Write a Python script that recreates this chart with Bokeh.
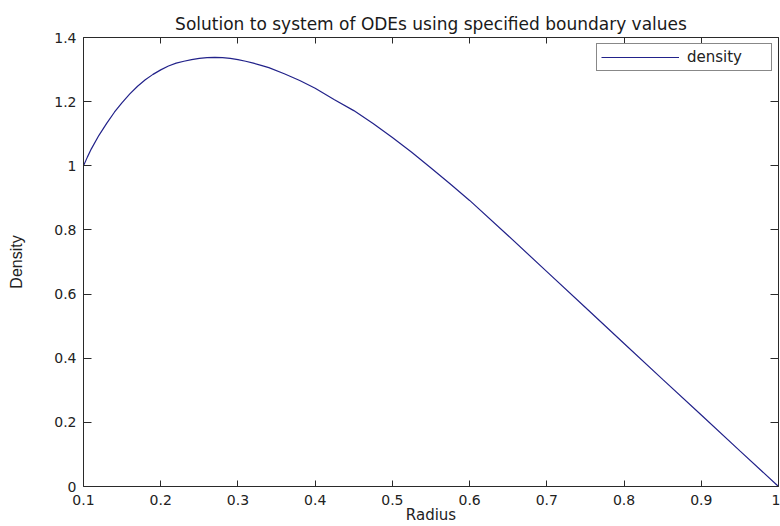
from bokeh.plotting import figure
from bokeh.models import (Range1d, LinearAxis, FixedTicker, CustomJSTickFormatter,
                          Legend, LegendItem)
from bokeh.embed import file_html
from bokeh.resources import INLINE

# ---- data ----
radius = [0.100, 0.105, 0.110, 0.120, 0.130, 0.140, 0.150, 0.160, 0.170, 0.180,
          0.190, 0.200, 0.210, 0.220, 0.230, 0.240, 0.250, 0.260, 0.270, 0.280,
          0.290, 0.300, 0.310, 0.320, 0.330, 0.340, 0.360, 0.380, 0.400, 0.425,
          0.450, 0.475, 0.500, 0.525, 0.550, 0.575, 0.600, 0.650, 0.700, 0.750,
          0.800, 0.850, 0.900, 0.950, 1.000]
density = [1.000, 1.027, 1.052, 1.095, 1.132, 1.167, 1.197, 1.224, 1.248, 1.268,
           1.285, 1.299, 1.311, 1.320, 1.326, 1.331, 1.335, 1.337, 1.338, 1.337,
           1.335, 1.331, 1.326, 1.320, 1.313, 1.306, 1.287, 1.266, 1.242, 1.206,
           1.172, 1.132, 1.088, 1.042, 0.993, 0.943, 0.892, 0.782, 0.670, 0.558,
           0.446, 0.334, 0.223, 0.111, 0.000]

x_ticks = [0.1, 0.2, 0.3, 0.4, 0.5, 0.6, 0.7, 0.8, 0.9, 1.0]
y_ticks = [0.0, 0.2, 0.4, 0.6, 0.8, 1.0, 1.2, 1.4]

title_text = "Solution to system of ODEs using specified boundary values"
x_label = "Radius"
y_label = "Density"
series_label = "density"

AX = "#2a2a2a"
FONT = "DejaVu Sans"

p = figure(width=780, height=526, output_backend="svg", toolbar_location=None,
           x_range=Range1d(0.1, 1.0), y_range=Range1d(0.0, 1.4),
           min_border_left=83, min_border_right=2, min_border_top=37,
           min_border_bottom=20, title=title_text,
           x_axis_label=x_label, y_axis_label=y_label)

p.background_fill_color = "white"
p.border_fill_color = "white"
p.outline_line_color = None
p.xgrid.visible = False
p.ygrid.visible = False

p.title.align = "center"
p.title.text_font = FONT
p.title.text_font_size = "17px"
p.title.text_font_style = "normal"
p.title.text_color = "#1a1a1a"
p.title.standoff = 8

fmt = CustomJSTickFormatter(code="return (Math.round(tick*10)/10).toString();")

xa = p.xaxis[0]
xa.ticker = FixedTicker(ticks=x_ticks)
xa.formatter = fmt
xa.major_tick_in = 6
xa.major_tick_out = 0
xa.minor_tick_line_color = None
xa.axis_line_color = AX
xa.major_tick_line_color = AX
xa.major_label_text_font = FONT
xa.major_label_text_font_size = "14px"
xa.major_label_text_color = "#222222"
xa.major_label_standoff = 8
xa.axis_label_text_font = FONT
xa.axis_label_text_font_size = "15px"
xa.axis_label_text_font_style = "normal"
xa.axis_label_text_color = "#222222"
xa.axis_label_standoff = -2

ya = p.yaxis[0]
ya.ticker = FixedTicker(ticks=y_ticks)
ya.formatter = fmt
ya.major_tick_in = 8
ya.major_tick_out = 0
ya.minor_tick_line_color = None
ya.axis_line_color = AX
ya.major_tick_line_color = AX
ya.major_label_text_font = FONT
ya.major_label_text_font_size = "14px"
ya.major_label_text_color = "#222222"
ya.major_label_standoff = 7
ya.axis_label_text_font = "Liberation Sans"
ya.axis_label_text_font_size = "16px"
ya.axis_label_text_font_style = "normal"
ya.axis_label_text_color = "#222222"
ya.axis_label_standoff = 26

blank = CustomJSTickFormatter(code="return '';")
top = LinearAxis(ticker=FixedTicker(ticks=x_ticks), formatter=blank,
                 major_tick_in=6, major_tick_out=0, minor_tick_line_color=None,
                 axis_line_color=AX, major_tick_line_color=AX,
                 major_label_text_font_size="0px", major_label_standoff=0)
right = LinearAxis(ticker=FixedTicker(ticks=y_ticks), formatter=blank,
                   major_tick_in=8, major_tick_out=0, minor_tick_line_color=None,
                   axis_line_color=AX, major_tick_line_color=AX,
                   major_label_text_font_size="0px", major_label_standoff=0)
p.add_layout(top, "above")
p.add_layout(right, "right")

r = p.line(radius, density, line_color="#22228a", line_width=1.2)

legend = Legend(items=[LegendItem(label=series_label, renderers=[r])],
                location="top_right", margin=6, padding=4, spacing=0,
                glyph_width=78, glyph_height=14, label_height=14,
                label_width=80, label_standoff=8,
                label_text_font=FONT, label_text_font_size="15px",
                label_text_color="#222222",
                border_line_color="#111111", border_line_width=1,
                background_fill_color="white", background_fill_alpha=1.0)
p.add_layout(legend)

open("out.html", "w").write(file_html(p, INLINE))
